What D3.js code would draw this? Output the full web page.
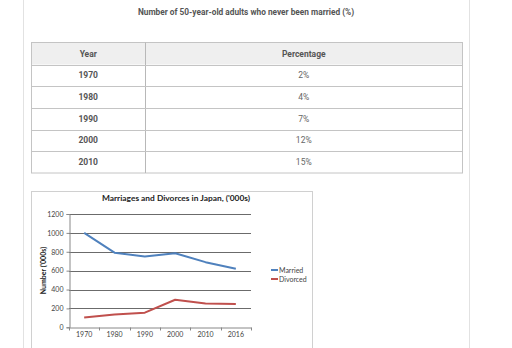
<!DOCTYPE html>
<html>
<head>
<meta charset="utf-8">
<script src="https://cdn.jsdelivr.net/npm/d3@7"></script>
<style>
  html, body { margin: 0; padding: 0; background: #fff; }
  svg { display: block; }
</style>
</head>
<body>
<svg id="chart" width="512" height="348"></svg>
<script>
// Table: share of 50-year-olds never married
const tableYears = ["1970", "1980", "1990", "2000", "2010"];
const tablePercent = [2, 4, 7, 12, 15];
const tableHeaders = ["Year", "Percentage"];

// Line chart: marriages and divorces in Japan ('000s)
const lineYears = ["1970", "1980", "1990", "2000", "2010", "2016"];
const married = [1000, 790, 750, 785, 690, 620];
const divorced = [105, 135, 155, 292, 252, 247];
const yTicks = [0, 200, 400, 600, 800, 1000, 1200];
const seriesNames = ["Married", "Divorced"];

const svg = d3.select("#chart");
const sans = "Roboto, 'Open Sans', sans-serif";
const chartFont = "Lato, 'Open Sans', sans-serif";

// Outer card edges
svg.append("line").attr("x1", 23.5).attr("x2", 23.5).attr("y1", 0).attr("y2", 348)
  .attr("stroke", "#e2e2e2");
svg.append("line").attr("x1", 469.5).attr("x2", 469.5).attr("y1", 0).attr("y2", 348)
  .attr("stroke", "#e2e2e2");

svg.append("text")
  .attr("x", 246).attr("y", 15)
  .attr("text-anchor", "middle")
  .attr("font-family", sans).attr("font-weight", "bold")
  .attr("font-size", 8.3).attr("fill", "#555")
  .text("Number of 50-year-old adults who never been married (%)");

// ---------- Table ----------
const tLeft = 31, tRight = 462, tDiv = 145.5, tTop = 42.5, headH = 22, rowH = 21.7;
const rowsY = d3.scaleBand().domain(tableYears)
  .range([tTop + headH, tTop + headH + rowH * tableYears.length]);

const table = svg.append("g");
table.append("rect")
  .attr("x", tLeft + 0.5).attr("y", tTop).attr("width", tRight - tLeft).attr("height", headH)
  .attr("fill", "#efefef");
table.append("rect")
  .attr("x", tLeft + 0.5).attr("y", tTop).attr("width", tRight - tLeft)
  .attr("height", rowsY.range()[1] - tTop)
  .attr("fill", "none").attr("stroke", "#c4c4c4");
table.append("line")
  .attr("x1", tDiv).attr("x2", tDiv).attr("y1", tTop).attr("y2", rowsY.range()[1])
  .attr("stroke", "#b8b8b8");
table.selectAll("line.row")
  .data(tableYears)
  .join("line").attr("class", "row")
  .attr("x1", tLeft).attr("x2", tRight + 0.5)
  .attr("y1", d => Math.round(rowsY(d)) + 0.5).attr("y2", d => Math.round(rowsY(d)) + 0.5)
  .attr("stroke", "#c4c4c4");

const colX = [(tLeft + tDiv) / 2, (tDiv + tRight) / 2];
table.selectAll("text.head")
  .data(tableHeaders)
  .join("text").attr("class", "head")
  .attr("x", (d, i) => colX[i]).attr("y", tTop + headH / 2 + 3)
  .attr("text-anchor", "middle")
  .attr("font-family", sans).attr("font-weight", "bold")
  .attr("font-size", 8.5).attr("fill", "#555")
  .text(d => d);
table.selectAll("text.year")
  .data(tableYears)
  .join("text").attr("class", "year")
  .attr("x", colX[0]).attr("y", d => rowsY(d) + rowH / 2 + 3)
  .attr("text-anchor", "middle")
  .attr("font-family", sans).attr("font-weight", "bold")
  .attr("font-size", 8.5).attr("fill", "#555")
  .text(d => d);
table.selectAll("text.pct")
  .data(tablePercent)
  .join("text").attr("class", "pct")
  .attr("x", colX[1]).attr("y", (d, i) => rowsY(tableYears[i]) + rowH / 2 + 3)
  .attr("text-anchor", "middle")
  .attr("font-family", sans)
  .attr("font-size", 8.5).attr("fill", "#666")
  .text(d => d + "%");

// ---------- Line chart ----------
svg.append("rect")
  .attr("x", 31.5).attr("y", 191.5).attr("width", 281).attr("height", 170)
  .attr("fill", "#fff").attr("stroke", "#d0d0d0");

svg.append("text")
  .attr("x", 176).attr("y", 200.5)
  .attr("text-anchor", "middle")
  .attr("font-family", chartFont).attr("font-weight", "bold")
  .attr("font-size", 8.4).attr("fill", "#222")
  .text("Marriages and Divorces in Japan, ('000s)");

const plot = { left: 69, right: 251, top: 214, bottom: 327.3 };
const x = d3.scaleBand().domain(lineYears).range([plot.left, plot.right]);
const y = d3.scaleLinear().domain([0, 1200]).range([plot.bottom, plot.top]);

// Gridlines
svg.append("g").selectAll("line")
  .data(yTicks.filter(v => v > 0))
  .join("line")
  .attr("x1", plot.left).attr("x2", plot.right)
  .attr("y1", d => Math.round(y(d)) + 0.5).attr("y2", d => Math.round(y(d)) + 0.5)
  .attr("stroke", "#5a5a5a").attr("stroke-width", 0.9);

// Y axis
const yAxis = svg.append("g")
  .attr("transform", `translate(${plot.left + 0.5},0)`)
  .call(d3.axisLeft(y).tickValues(yTicks).tickFormat(d3.format("d")).tickSize(3).tickPadding(3));
yAxis.select(".domain").attr("stroke", "#888");
yAxis.selectAll(".tick line").attr("stroke", "#888");
yAxis.selectAll("text")
  .attr("font-family", chartFont).attr("font-size", 7).attr("fill", "#444");

// X axis with ticks at category boundaries
const xAxis = svg.append("g")
  .attr("transform", `translate(0,${Math.round(plot.bottom) + 0.5})`)
  .call(d3.axisBottom(x).tickSize(0).tickPadding(5));
xAxis.select(".domain").attr("stroke", "#888");
xAxis.selectAll("text")
  .attr("font-family", chartFont).attr("font-size", 7).attr("fill", "#444");
const bounds = lineYears.map(d => x(d)).concat([plot.right]);
xAxis.selectAll("line.edge")
  .data(bounds)
  .join("line").attr("class", "edge")
  .attr("x1", d => Math.round(d) + 0.5).attr("x2", d => Math.round(d) + 0.5)
  .attr("y1", 0).attr("y2", 3)
  .attr("stroke", "#888");

// Series
const colors = ["#4f81bd", "#c0504d"];
const line = d3.line()
  .x((d, i) => x(lineYears[i]) + x.bandwidth() / 2)
  .y(d => y(d));
[married, divorced].forEach((vals, k) => {
  svg.append("path")
    .datum(vals)
    .attr("d", line)
    .attr("fill", "none")
    .attr("stroke", colors[k]).attr("stroke-width", 2)
    .attr("stroke-linejoin", "round");
});

// Y axis title
svg.append("text")
  .attr("transform", `translate(46,${(plot.top + plot.bottom) / 2}) rotate(-90)`)
  .attr("text-anchor", "middle")
  .attr("font-family", chartFont).attr("font-weight", "bold")
  .attr("font-size", 7).attr("fill", "#222")
  .text("Number ('000s)");

// Legend
const legend = svg.append("g").attr("transform", "translate(271,270)");
seriesNames.forEach((name, k) => {
  const g = legend.append("g").attr("transform", `translate(0,${k * 9})`);
  g.append("line").attr("x1", 0).attr("x2", 7).attr("y1", 0).attr("y2", 0)
    .attr("stroke", colors[k]).attr("stroke-width", 2);
  g.append("text").attr("x", 8).attr("y", 2.5)
    .attr("font-family", chartFont).attr("font-size", 7).attr("fill", "#444")
    .text(name);
});
</script>
</body>
</html>
